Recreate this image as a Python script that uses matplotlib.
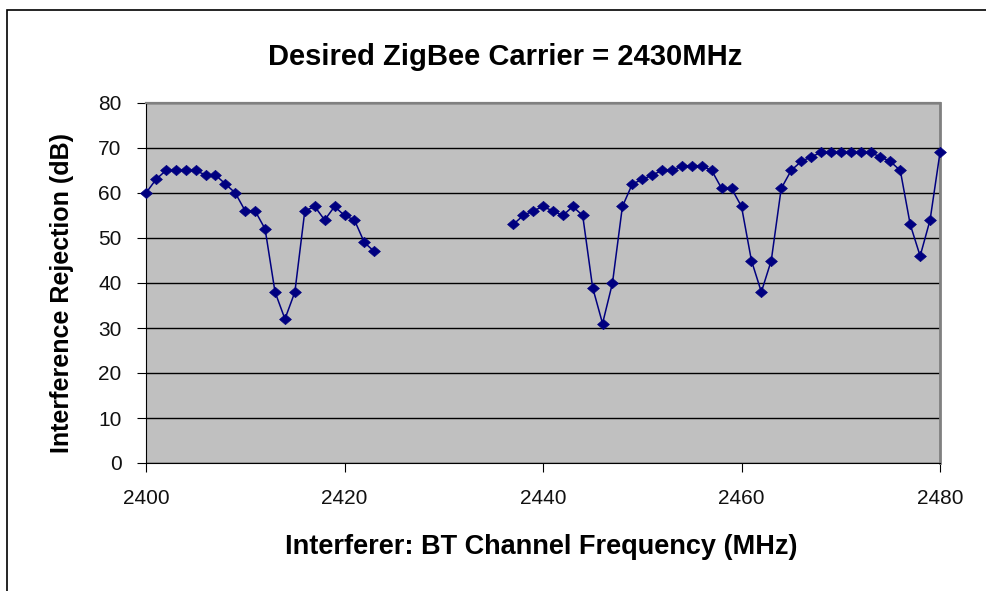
import numpy as np
import matplotlib.pyplot as plt
from matplotlib.patches import Rectangle

# interferer frequency (MHz) and rejection (dB), two measured segments
freq_low = np.arange(2400, 2424)
rej_low = [60, 63, 65, 65, 65, 65, 64, 64, 62, 60, 56, 56,
           52, 38, 32, 38, 56, 57, 54, 57, 55, 54, 49, 47]
freq_high = np.arange(2437, 2481)
rej_high = [53, 55, 56, 57, 56, 55, 57, 55, 39, 31, 40, 57,
            62, 63, 64, 65, 65, 66, 66, 66, 65, 61, 61, 57,
            45, 38, 45, 61, 65, 67, 68, 69, 69, 69, 69, 69,
            69, 68, 67, 65, 53, 46, 54, 69]

x_ticks = [2400, 2420, 2440, 2460, 2480]
y_ticks = list(range(0, 81, 10))

plt.rcParams['font.family'] = ['Liberation Sans', 'DejaVu Sans']

fig = plt.figure(figsize=(9.86, 5.91), dpi=100)
fig.patches.append(Rectangle((7 / 986, -0.1), 1.2, 1 - 10 / 591 + 0.1,
                             transform=fig.transFigure, fill=False,
                             edgecolor='black', linewidth=1.2))

ax = fig.add_axes([146 / 986, 1 - 463 / 591, (940 - 146) / 986, (463 - 103) / 591])
ax.set_facecolor('#C0C0C0')

# slightly wide diamond, like the original
diamond = [(-1.15, 0), (0, 1), (1.15, 0), (0, -1), (-1.15, 0)]
for xs, ys in [(freq_low, rej_low), (freq_high, rej_high)]:
    ax.plot(xs, ys, color='#000080', linewidth=1.1, marker=diamond,
            markersize=8.5, markerfacecolor='#000080', markeredgecolor='#000080',
            markeredgewidth=0.5, zorder=3, clip_on=False)

ax.set_xlim(2400, 2480)
ax.set_ylim(0, 80)
ax.set_xticks(x_ticks)
ax.set_yticks(y_ticks)
ax.yaxis.grid(True, color='black', linewidth=1)
ax.set_axisbelow(True)
ax.tick_params(axis='both', labelsize=15, direction='out', length=6.5,
               color='black', labelcolor='#111111')
ax.tick_params(axis='x', pad=12)
ax.tick_params(axis='y', pad=11)

ax.spines['left'].set_color('black')
ax.spines['bottom'].set_color('black')
ax.spines['top'].set_color('#808080')
ax.spines['right'].set_color('#808080')
ax.spines['top'].set_linewidth(1.6)
ax.spines['right'].set_linewidth(2)

fig.text(505 / 986, 1 - 57 / 591, 'Desired ZigBee Carrier = 2430MHz',
         ha='center', va='center', fontsize=21, fontweight='bold')
fig.text(541 / 986, 1 - 547 / 591, 'Interferer: BT Channel Frequency (MHz)',
         ha='center', va='center', fontsize=19.5, fontweight='bold')
fig.text(62 / 986, 1 - 293 / 591, 'Interference Rejection (dB)',
         ha='center', va='center', rotation=90, fontsize=18,
         fontweight='bold')

fig.savefig('out.png', dpi=100)
